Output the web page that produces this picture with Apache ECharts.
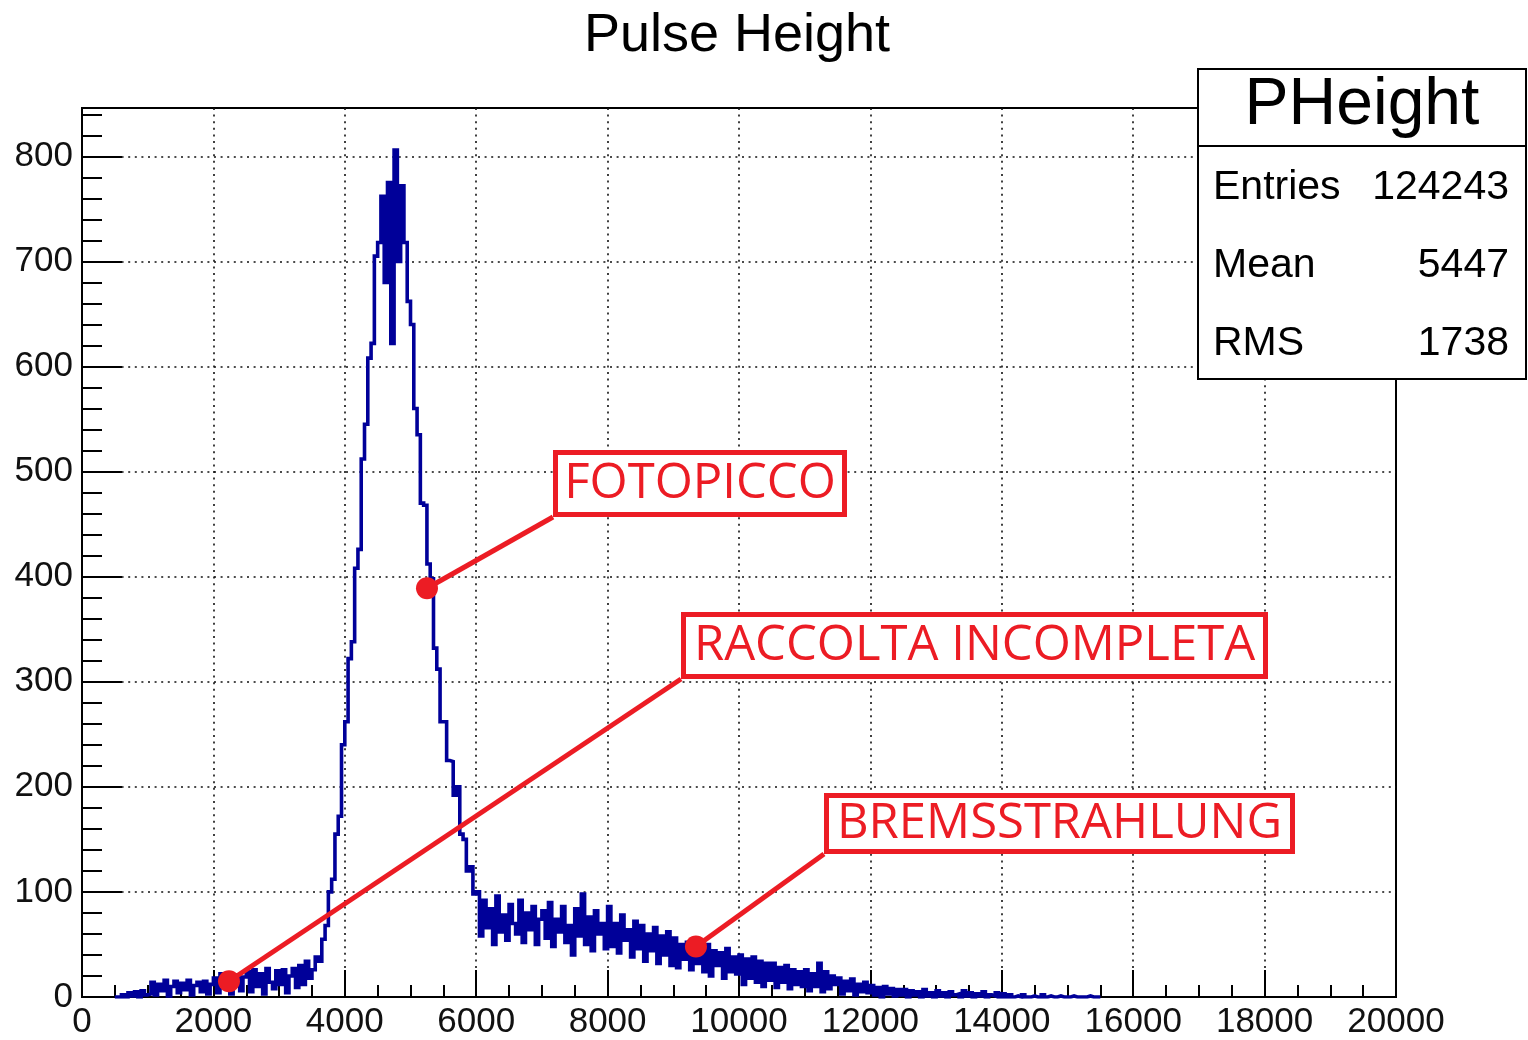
<!DOCTYPE html>
<html><head><meta charset="utf-8">
<script src="https://cdn.jsdelivr.net/npm/echarts@6/dist/echarts.min.js"></script>
<style>html,body{margin:0;padding:0;background:#fff}#c{width:1528px;height:1040px}</style>
</head><body><div id="c"></div>
<script>
// ---------------- DATA ----------------
const chartTitle = 'Pulse Height';
const histName = 'PHeight';
const binStart = 500;     // left edge of first bin
const binWidth = 50;      // bin width
const counts = [
  0,0,2,0,4,1,5,0,6,2,
  3,14,2,12,6,16,1,10,15,4,13,7,16,2,11,14,5,15,3,12,
  18,4,22,9,20,3,17,21,6,19,
  24,5,26,10,22,3,27,14,8,25,12,26,4,20,27,9,
  30,12,34,18,
  26,38,34,55,68,100,112,155,172,240,
  262,322,338,408,426,512,545,608,622,705,
  718,762,680,775,622,806,700,772,718,662,
  640,560,535,470,468,412,398,332,312,262,
  262,225,224,192,200,155,150,120,124,98,
  100,58,92,66,84,50,96,62,78,54,88,70,60,92,52,80,64,86,50,74,
  82,56,90,48,74,62,86,52,68,40,84,58,98,50,76,44,82,60,70,46,
  86,48,70,42,78,54,64,38,72,46,
  68,34,60,44,66,32,58,40,62,30,
  56,28,50,36,52,26,48,32,46,24,
  50,20,44,30,42,18,46,24,38,22,
  40,12,36,18,38,14,34,10,32,16,
  32,9,28,14,30,8,26,12,24,10,
  26,6,22,10,32,5,24,8,20,12,
  18,3,15,6,17,2,12,5,14,4,
  11,2,9,0,10,3,8,1,7,2,
  7,0,6,2,5,0,7,1,4,0,
  6,1,4,0,5,2,3,0,6,1,4,0,3,1,5,0,2,1,4,0,
  3,0,2,0,1,0,2,0,0,1,0,0,2,0,1,0,0,1,0,0,
  0,1,0,0,0,0,1,0,0,0
];
const xMin = 0, xMax = 20000, xStep = 2000;
const yMin = 0, yMax = 846, yStep = 100, yMinorStep = 20;
const statLabels = ['Entries', 'Mean', 'RMS'];
const statValues = ['124243', '5447', '1738'];
const annotLabels = ['FOTOPICCO', 'RACCOLTA INCOMPLETA', 'BREMSSTRAHLUNG'];
const annotPoints = [[5251, 389], [2237, 15], [9345, 48]];

// ---------------- LAYOUT / STYLE ----------------
const annotBoxes = [ // outer pixel boxes [x0, y0, x1, y1]
  [553, 450, 847, 517],
  [681, 612, 1268, 679],
  [824, 793, 1295, 854]
];
const RED = '#ec1c24';
const HFONT = '"Liberation Sans", Arial, Helvetica, sans-serif';
const AFONT = '"Open Sans", "Noto Sans", sans-serif';

const histData = counts.map((c, i) => [binStart + i * binWidth, c]);
histData.push([binStart + counts.length * binWidth, 0]);

const chart = echarts.init(document.getElementById('c'), null, {renderer: 'canvas'});
const dotted = {color: '#111', width: 1.6, type: [2, 4.6]};
chart.setOption({
  animation: false,
  backgroundColor: '#fff',
  grid: {left: 82, right: 132, top: 108, bottom: 42, show: true, borderColor: '#000', borderWidth: 2, backgroundColor: '#fff'},
  xAxis: {
    type: 'value', min: xMin, max: xMax, interval: xStep,
    axisLine: {show: true, onZero: false, lineStyle: {color: '#000', width: 2}},
    axisTick: {show: true, inside: true, length: 27, lineStyle: {color: '#000', width: 2}},
    minorTick: {show: true, splitNumber: 4, length: 12, lineStyle: {color: '#000', width: 2}},
    axisLabel: {color: '#111', fontSize: 35, fontFamily: HFONT, margin: 8, formatter: v => String(v)},
    splitLine: {show: true, showMinLine: false, showMaxLine: false, lineStyle: dotted}
  },
  yAxis: [{
    type: 'value', min: yMin, max: yMax, interval: yStep,
    axisLine: {show: true, onZero: false, lineStyle: {color: '#000', width: 2}},
    axisTick: {show: true, inside: true, length: 40, lineStyle: {color: '#000', width: 2}},
    axisLabel: {color: '#111', fontSize: 35, fontFamily: HFONT, margin: 9, showMaxLabel: false, formatter: v => String(v)},
    splitLine: {show: true, showMinLine: false, showMaxLine: false, lineStyle: dotted}
  }, {
    type: 'value', min: yMin, max: yMax, interval: yMinorStep, position: 'left',
    axisLine: {show: false},
    axisTick: {show: true, inside: true, length: 20, lineStyle: {color: '#000', width: 2}},
    axisLabel: {show: false},
    splitLine: {show: false}
  }],
  series: [{
    type: 'line', step: 'end', data: histData, yAxisIndex: 0,
    symbol: 'none', lineStyle: {color: '#000099', width: 3.6, join: 'miter'}, z: 3, clip: true
  }]
});

const g = [];
// title
g.push({type: 'text', z: 100, style: {text: chartTitle, x: 737, y: 36, textAlign: 'center', textVerticalAlign: 'middle', font: '54px ' + HFONT, fill: '#000'}});
// annotations
annotLabels.forEach((lab, i) => {
  const p = chart.convertToPixel({gridIndex: 0}, annotPoints[i]);
  const b = annotBoxes[i];
  g.push({type: 'line', z: 90, shape: {x1: b[0], y1: b[3], x2: p[0], y2: p[1]}, style: {stroke: RED, lineWidth: 5}});
  g.push({type: 'circle', z: 91, shape: {cx: p[0], cy: p[1], r: 11}, style: {fill: RED}});
  g.push({type: 'rect', z: 92, shape: {x: b[0] + 2.5, y: b[1] + 2.5, width: b[2] - b[0] - 5, height: b[3] - b[1] - 5}, style: {fill: '#fff', stroke: RED, lineWidth: 5}});
  g.push({type: 'text', z: 93, style: {text: lab, x: (b[0] + b[2]) / 2, y: (b[1] + b[3]) / 2 + 1, textAlign: 'center', textVerticalAlign: 'middle', font: '49px ' + AFONT, fill: RED}});
});
// stats box
g.push({type: 'rect', z: 95, shape: {x: 1198, y: 69, width: 328, height: 310}, style: {fill: '#fff', stroke: '#000', lineWidth: 2}});
g.push({type: 'line', z: 96, shape: {x1: 1198, y1: 146, x2: 1526, y2: 146}, style: {stroke: '#000', lineWidth: 2}});
g.push({type: 'text', z: 97, style: {text: histName, x: 1362, y: 106, textAlign: 'center', textVerticalAlign: 'middle', font: '66px ' + HFONT, fill: '#000'}});
statLabels.forEach((lab, i) => {
  const y = 188 + i * 78;
  g.push({type: 'text', z: 97, style: {text: lab, x: 1213, y: y, textAlign: 'left', textVerticalAlign: 'middle', font: '41px ' + HFONT, fill: '#000'}});
  g.push({type: 'text', z: 97, style: {text: statValues[i], x: 1509, y: y, textAlign: 'right', textVerticalAlign: 'middle', font: '41px ' + HFONT, fill: '#000'}});
});
chart.setOption({graphic: g});
</script></body></html>
